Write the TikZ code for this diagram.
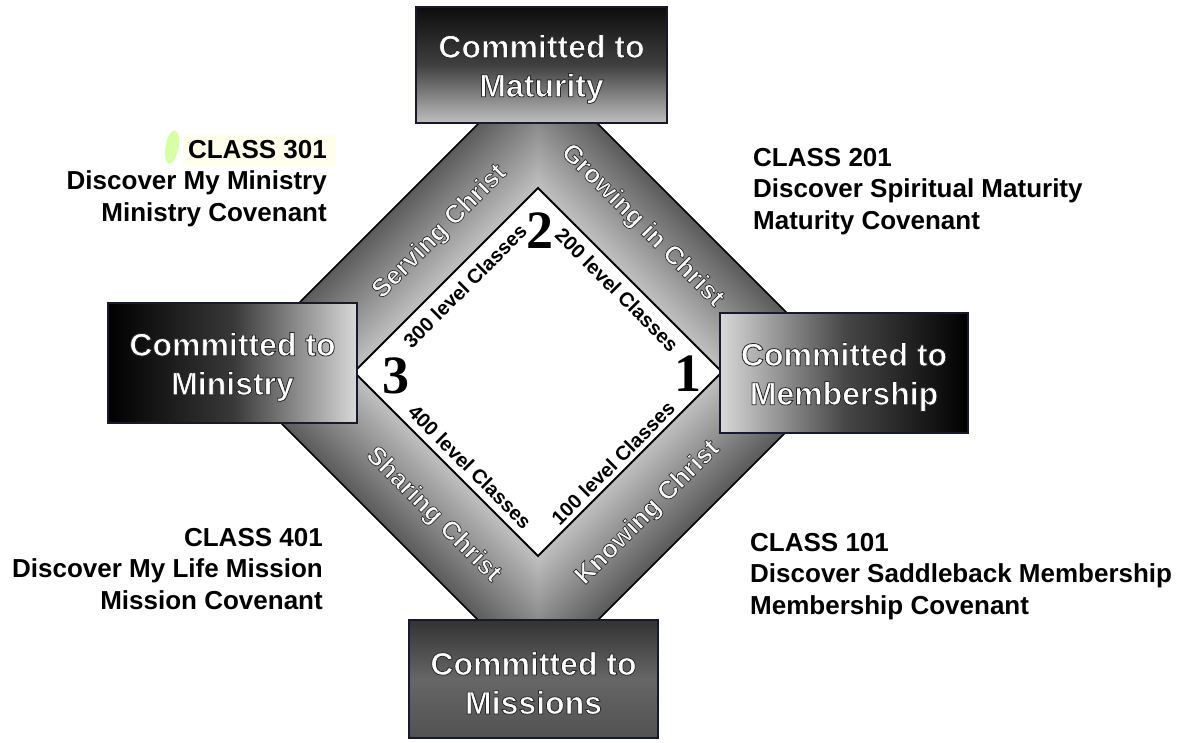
\documentclass[tikz,border=0pt]{standalone}
\usepackage{fontspec}
\setmainfont{Liberation Sans}
\newfontfamily\numfont{Liberation Serif}
% white letters with a dark rim (fill + stroke text rendering)
\newcommand{\embon}[1]{\special{pdf:literal direct 2 Tr #1 w 0.15 0.15 0.15 RG}}
\newcommand{\emboff}{\special{pdf:literal direct 0 Tr}}
\begin{document}
\begin{tikzpicture}[x=1pt,y=-1pt,
  box/.style={draw={rgb,255:red,25;green,25;blue,45}, line width=2.5pt, inner sep=0},
  boxtxt/.style={font=\bfseries\fontsize{32}{39}\selectfont, align=center, text=white, inner sep=0},
  bandtxt/.style={font=\bfseries\fontsize{26}{26}\selectfont, text=gray!6, inner sep=0},
  leveltxt/.style={font=\bfseries\fontsize{20}{20}\selectfont, inner sep=0},
  numtxt/.style={font=\numfont\bfseries\fontsize{54}{54}\selectfont, inner sep=0},
  side/.style={font=\bfseries\fontsize{26}{31.5}\selectfont, inner sep=0}]
\useasboundingbox (0,0) rectangle (1192,742);
\fill[white] (0,0) rectangle (1192,742);

% ring: nested diamonds, dark outside, light towards the inner square
\coordinate (ctr) at (538,372);
\foreach \i in {0,...,40}{
  \pgfmathsetmacro{\r}{308-\i*3.1}
  \pgfmathsetmacro{\p}{64-\i*1.0}
  \fill[black!\p] ([shift={(0,-\r)}]ctr) -- ([shift={(\r,0)}]ctr)
    -- ([shift={(0,\r)}]ctr) -- ([shift={(-\r,0)}]ctr) -- cycle;
}
\draw[black, line width=1.5pt] (538,64) -- (846,372) -- (538,680) -- (230,372) -- cycle;
\filldraw[fill=white, draw=black, line width=1.8pt]
  (538,188) -- (722,372) -- (538,556) -- (354,372) -- cycle;

% labels inside the ring
\node[bandtxt, rotate=45]  (serv) at (440,232) {\embon{0.65}Serving Christ\emboff};
\node[bandtxt, rotate=-45] (grow) at (642,226) {\embon{0.65}Growing in Christ\emboff};
\node[bandtxt, rotate=-45] (shar) at (433,515) {\embon{0.65}Sharing Christ\emboff};
\node[bandtxt, rotate=45]  (know) at (648,513) {\embon{0.65}Knowing Christ\emboff};

% class levels along the inner square
\node[leveltxt, rotate=45]  (lv300) at (465,286) {300 level Classes};
\node[leveltxt, rotate=-45] (lv200) at (617,290) {200 level Classes};
\node[leveltxt, rotate=-45] (lv400) at (470,467) {400 level Classes};
\node[leveltxt, rotate=45]  (lv100) at (613,463) {100 level Classes};
\node[numtxt] (n2) at (540,231) {2};
\node[numtxt] (n3) at (396,376) {3};
\node[numtxt] (n1) at (688,374) {1};

% commitment boxes
\node[box, minimum width=251pt, minimum height=116pt,
  top color=black!95, bottom color=gray!50, middle color=black!75] (boxMat) at (541.5,65) {};
\node[box, minimum width=249pt, minimum height=120pt,
  left color=black, right color=gray!30, middle color=black!78] (boxMin) at (232.5,363) {};
\node[box, minimum width=248pt, minimum height=120pt,
  left color=gray!30, right color=black, middle color=black!72] (boxMem) at (844,373) {};
\node[box, minimum width=249pt, minimum height=118pt,
  top color=black!80, bottom color=black!68, middle color=black!60] (boxMis) at (533.5,679) {};

\node[boxtxt] (matT) at ([shift={(0,4)}]boxMat.center) {\embon{0.8}Committed to\\Maturity\emboff};
\node[boxtxt] (minT) at ([shift={(0,4)}]boxMin.center) {\embon{0.8}Committed to\\Ministry\emboff};
\node[boxtxt] (memT) at ([shift={(0,4)}]boxMem.center) {\embon{0.8}Committed to\\Membership\emboff};
\node[boxtxt] (misT) at ([shift={(0,4)}]boxMis.center) {\embon{0.8}Committed to\\Missions\emboff};

% highlighter marks
\fill[yellow!8] (183,135) rectangle (336,166);
\fill[green!45!yellow!35, rotate around={-10:(172,147)}] (172,147) ellipse [x radius=6.5, y radius=17];

% class descriptions
\node[side, align=right, anchor=north east] (c301) at (327,140)
  {CLASS 301\\Discover My Ministry\\Ministry Covenant};
\node[side, align=left, anchor=north west] (c201) at (753,148)
  {CLASS 201\\Discover Spiritual Maturity\\Maturity Covenant};
\node[side, align=right, anchor=north east] (c401) at (323,528)
  {CLASS 401\\Discover My Life Mission\\Mission Covenant};
\node[side, align=left, anchor=north west] (c101) at (750,533)
  {CLASS 101\\Discover Saddleback Membership\\Membership Covenant};
\end{tikzpicture}
\end{document}
